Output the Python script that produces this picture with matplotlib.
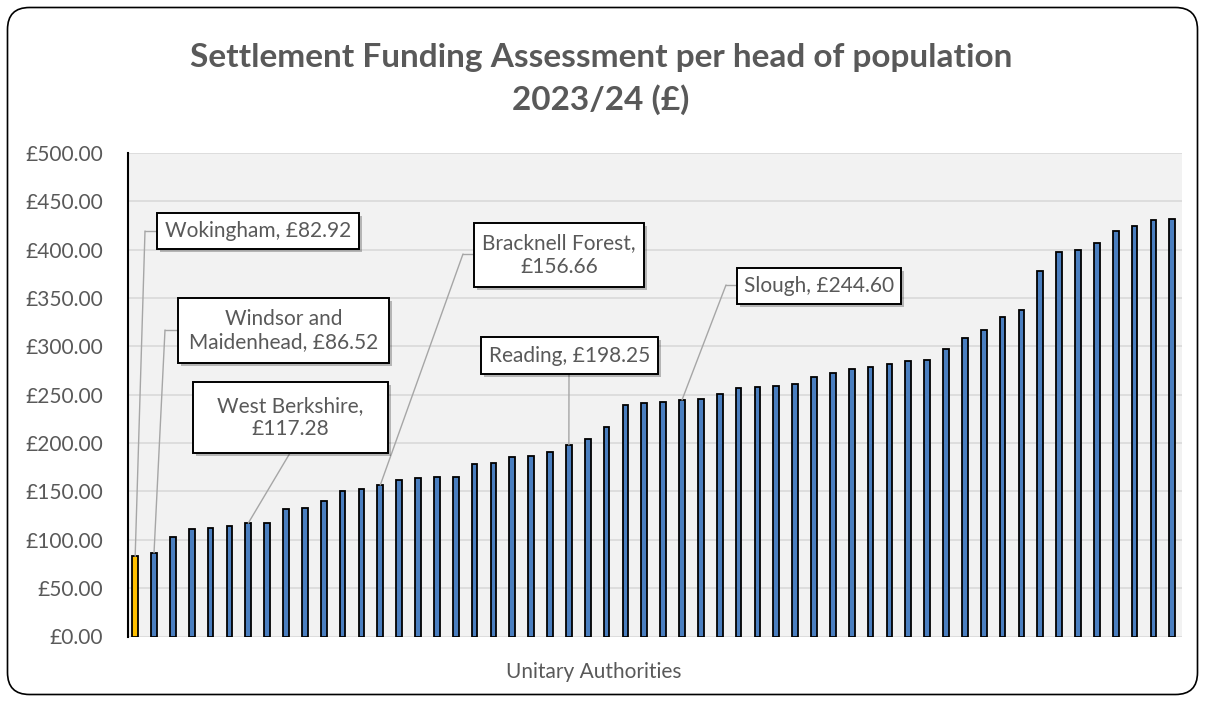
import numpy as np
import matplotlib
matplotlib.use("Agg")
import matplotlib.pyplot as plt
import matplotlib.patheffects as pe
from matplotlib.patches import FancyBboxPatch, ConnectionPatch, Rectangle

plt.rcParams['font.family'] = ['Lato', 'DejaVu Sans']

# SFA per head of population, unitary authorities, sorted ascending
values = [82.92, 86.52, 102.6, 110.9, 112.5, 114.0, 117.28, 117.7, 131.9, 132.6,
          140.1, 150.8, 152.5, 156.66, 162.2, 163.9, 164.9, 165.3, 178.1, 179.4,
          185.6, 186.3, 190.5, 198.25, 204.5, 216.6, 239.7, 241.2, 242.2, 244.60,
          245.3, 250.8, 257.3, 258.3, 259.4, 261.1, 268.5, 272.5, 276.9, 279.0,
          281.5, 284.9, 286.3, 297.3, 309.0, 316.6, 330.4, 337.6, 378.3, 397.9,
          400.0, 407.2, 419.3, 424.1, 431.0, 431.7]
highlight = 0  # Wokingham

labels = ["Wokingham, £82.92", "Windsor and\nMaidenhead, £86.52", "West Berkshire,\n£117.28",
          "Bracknell Forest,\n£156.66", "Reading, £198.25", "Slough, £244.60"]
label_bar = [0, 1, 6, 13, 23, 29]

# label boxes in pixels of the plot area: left, top, width, height
boxes_px = [(157, 213, 202, 36), (178, 298, 211, 65), (193, 382, 195, 71),
            (474, 223, 170, 64), (481, 337, 177, 37), (737, 268, 164, 36)]
# leader start and optional elbow, pixels
lead_start_px = [(157, 231), (178, 330), (290, 453), (474, 254), (569, 374), (737, 285)]
lead_elbow_px = [(145, 231), (165, 330), None, (463, 254), None, (726, 285)]

grey_txt = '#595959'
AX_L, AX_B, AX_W, AX_H = 128, 636.5, 1053.7, 483.5


def to_ax(px, py):
    return (px - AX_L) / AX_W, (AX_B - py) / AX_H


fig = plt.figure(figsize=(12.05, 7.02), dpi=100)
ax = fig.add_axes([AX_L / 1205, (702 - AX_B) / 702, AX_W / 1205, AX_H / 702])
ax.set_facecolor('#f2f2f2')

x = np.arange(len(values))
colors = ['#4a7ebf'] * len(values)
colors[highlight] = '#ffc000'
ax.bar(x, values, width=0.3, color=colors, edgecolor='black', linewidth=1.3, zorder=3)

ax.set_xlim(-0.38, len(values) - 0.5)
ax.set_ylim(0, 500)
ax.set_yticks(np.arange(0, 501, 50))
ax.set_yticklabels([f"£{v:.2f}" for v in np.arange(0, 501, 50)])
ax.tick_params(axis='y', length=0, pad=18, labelsize=15, labelcolor=grey_txt)
ax.set_xticks([])
ax.grid(axis='y', color='#d9d9d9', linewidth=1.2, zorder=0)
ax.set_axisbelow(True)
for s in ['top', 'right', 'bottom']:
    ax.spines[s].set_visible(False)
ax.spines['left'].set_linewidth(1.5)
ax.spines['left'].set_zorder(4)

# leader lines + label boxes
for lab, i, bx, st, el in zip(labels, label_bar, boxes_px, lead_start_px, lead_elbow_px):
    p = to_ax(*st)
    if el is not None:
        e = to_ax(*el)
        ax.plot([p[0], e[0]], [p[1], e[1]], transform=ax.transAxes,
                color='#a6a6a6', lw=1, zorder=5, clip_on=False)
        p = e
    con = ConnectionPatch(xyA=p, coordsA=ax.transAxes, xyB=(i, values[i]), coordsB=ax.transData,
                          color='#a6a6a6', lw=1, zorder=5)
    ax.add_artist(con)

    l, tp, w, h = bx
    x0, y0 = to_ax(l, tp + h)
    rect = Rectangle((x0, y0), w / AX_W, h / AX_H, transform=ax.transAxes,
                     fc='white', ec='black', lw=1.4, zorder=6, clip_on=False)
    rect.set_path_effects([
        pe.SimplePatchShadow(offset=(2.5, -2.5), shadow_rgbFace='black', alpha=0.25),
        pe.Normal()])
    ax.add_patch(rect)
    cx, cy = to_ax(l + w / 2, tp + h / 2)
    ax.text(cx, cy, lab, transform=ax.transAxes, ha='center', va='center',
            fontsize=15, color=grey_txt, zorder=7, linespacing=1.2)

fig.text(601 / 1205, 1 - 79 / 702, "Settlement Funding Assessment per head of population\n2023/24 (£)",
         ha='center', va='center', fontsize=24, fontweight='bold', color=grey_txt, linespacing=1.5)
fig.text(594 / 1205, 1 - 672 / 702, "Unitary Authorities", ha='center', va='center',
         fontsize=15, color=grey_txt)

# rounded chart border
border = FancyBboxPatch((0.075, 0.075), 11.9, 6.87, boxstyle='round,pad=0,rounding_size=0.22',
                        transform=fig.dpi_scale_trans, fc='none', ec='black', lw=1.2)
fig.patches.append(border)

fig.savefig('out.png', dpi=100, facecolor='white')
